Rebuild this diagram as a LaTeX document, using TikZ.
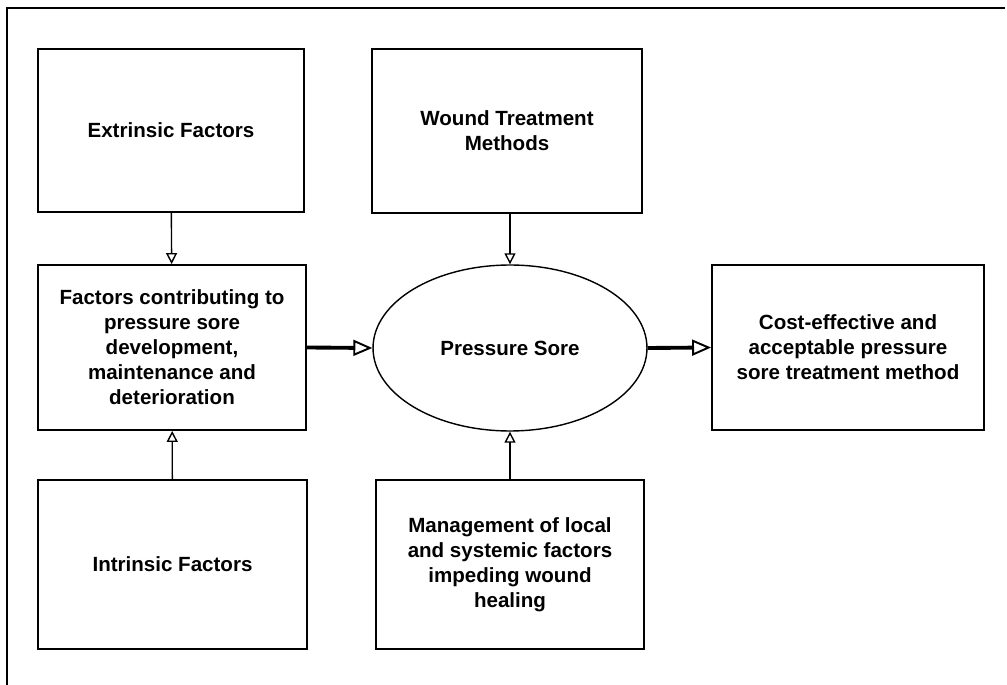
\documentclass[tikz,border=0pt]{standalone}
\usepackage{fontspec}
\setmainfont{Liberation Sans}
\usetikzlibrary{arrows.meta,shapes.geometric}

\begin{document}
\begin{tikzpicture}[x=0.02cm,y=-0.02cm,
    box/.style={draw,line width=1.1pt,inner sep=0pt,align=center,
        font=\bfseries\fontsize{11.7}{14.2}\selectfont},
    thinarrow/.style={line width=0.8pt,-{Triangle[open,length=0.22cm,width=0.22cm]}},
    thickarrow/.style={line width=2.2pt,-{Triangle[open,length=0.38cm,width=0.32cm,line width=1.1pt]}}]
    \useasboundingbox (0,0) rectangle (1007,685);
    \draw[line width=1.1pt] (7,685) -- (7,8) -- (1005,8);
    % top row
    \node[box,minimum width=5.32cm,minimum height=3.26cm] (ext) at (171,130.5) {Extrinsic Factors};
    \node[box,minimum width=5.4cm,minimum height=3.28cm] (wound) at (507,131) {Wound Treatment\\Methods};
    % middle row
    \node[box,minimum width=5.36cm,minimum height=3.3cm] (fac) at (172,347.5)
        {Factors contributing to\\pressure sore\\development,\\maintenance and\\deterioration};
    \node[box,ellipse,line width=0.8pt,minimum width=5.48cm,minimum height=3.32cm] (sore) at (510,348) {Pressure Sore};
    \node[box,minimum width=5.44cm,minimum height=3.3cm] (cost) at (848,347.5)
        {Cost-effective and\\acceptable pressure\\sore treatment method};
    % bottom row
    \node[box,minimum width=5.38cm,minimum height=3.38cm] (intr) at (172.5,564.5) {Intrinsic Factors};
    \node[box,minimum width=5.36cm,minimum height=3.38cm] (mgmt) at (510,564.5)
        {Management of local\\and systemic factors\\impeding wound\\healing};
    % arrows
    \draw[thinarrow] (ext) -- (fac);
    \draw[thinarrow] (sore.north |- wound.south) -- (sore.north);
    \draw[thinarrow] (intr) -- (fac);
    \draw[thinarrow] (mgmt.north -| sore.south) -- (sore.south);
    \draw[thickarrow] (fac.east) -- (sore.west);
    \draw[thickarrow] (sore.east) -- (cost.west);
\end{tikzpicture}
\end{document}
